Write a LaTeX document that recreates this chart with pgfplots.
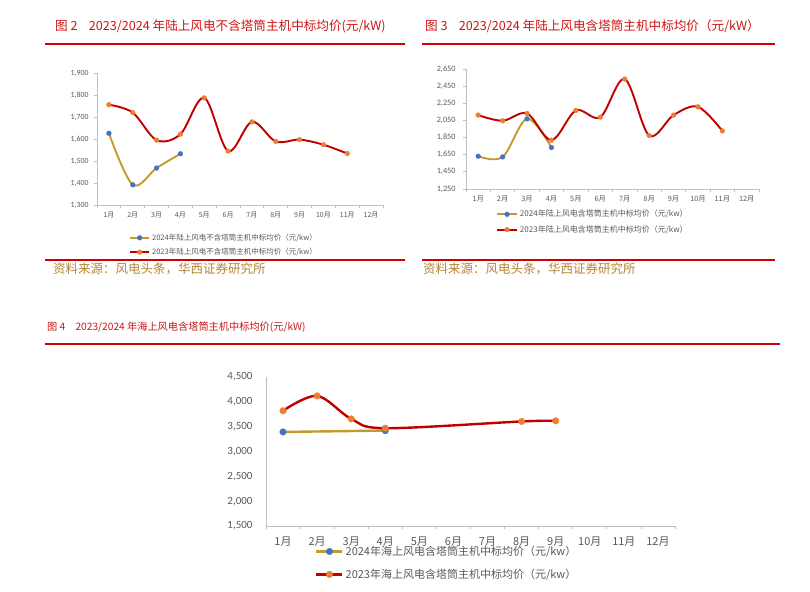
\documentclass[border=0pt]{standalone}
\usepackage{pgfplots}
\pgfplotsset{compat=1.18}
\usepackage{fontspec}
\setmainfont{Carlito}
\newfontfamily\cjk{Noto Sans CJK SC}
\definecolor{red23}{RGB}{192,0,0}
\definecolor{orangeM}{RGB}{237,125,49}
\definecolor{blueM}{RGB}{68,114,196}
\definecolor{gold24}{RGB}{196,154,44}
\definecolor{titlered}{RGB}{204,20,20}
\definecolor{rulered}{RGB}{210,0,0}
\definecolor{srcgold}{RGB}{180,132,52}
\definecolor{axisgray}{RGB}{191,191,191}
\definecolor{labelgray}{RGB}{89,89,89}
\pgfplotsset{
  mybase/.style={
    scale only axis,
    anchor=south west,
    axis x line*=bottom, axis y line*=left,
    axis line style={draw=axisgray, line width=0.8pt},
    xmin=0.5, xmax=12.5,
    xtick={1,...,12},
    xticklabels={1月,2月,3月,4月,5月,6月,7月,8月,9月,10月,11月,12月},
    major x tick style={draw=none},
    minor xtick={0.5,1.5,...,12.5},
    minor tick length=3pt,
    tick align=outside,
    tick style={draw=axisgray, line width=0.8pt},
    yticklabel style={/pgf/number format/1000 sep={,}, /pgf/number format/assume math mode=true, text=labelgray},
    xticklabel style={text=labelgray},
    scaled y ticks=false,
    clip=false,
    legend cell align=left,
  },
  s23/.style={red23, smooth, tension=0.55, mark=*, mark options={draw=orangeM, fill=orangeM, line width=0.1pt}},
  s24/.style={gold24, smooth, tension=0.55, mark=*, mark options={draw=blueM, fill=blueM, line width=0.1pt}},
}
\begin{document}
\begin{tikzpicture}[x=1pt,y=1pt]
\path[use as bounding box] (0,0) rectangle (810,591);

% ---------- Figure 2 ----------
\node[anchor=west, inner sep=0, text=titlered, font=\cjk\fontsize{12.6}{14}\selectfont] at (55,565) {图 2\hspace{0.9em}2023/2024 年陆上风电不含塔筒主机中标均价(元/kW)};
\draw[rulered, line width=1.8pt] (45,547) -- (405,547);
\begin{axis}[mybase,
  at={(97pt,386pt)}, width=286pt, height=132pt,
  ymin=1300, ymax=1900, ytick={1300,1400,...,1900},
  major tick length=3pt,
  yticklabel style={font=\fontsize{7.8}{9}\selectfont, xshift=-2pt},
  xticklabel style={font=\cjk\fontsize{7}{8}\selectfont},
  legend style={at={(axis description cs:0.112,-0.303)}, anchor=west, draw=none, fill=none, inner sep=0pt, row sep=2.5pt, font=\cjk\fontsize{7.5}{9}\selectfont, text=labelgray},
  legend image code/.code={\draw[mark repeat=2,mark phase=2,#1] plot coordinates {(0pt,0pt)(9.5pt,0pt)(19pt,0pt)};},
  every axis plot/.append style={line width=1.9pt, mark size=2.5pt},
]
\addplot[s24] coordinates {(1,1626)(2,1392)(3,1468)(4,1533)};
\addlegendentry{2024年陆上风电不含塔筒主机中标均价（元/kw）}
\addplot[s23] coordinates {(1,1756)(2,1720)(3,1595)(4,1622)(5,1787)(6,1545)(7,1678)(8,1589)(9,1597)(10,1574)(11,1534)};
\addlegendentry{2023年陆上风电不含塔筒主机中标均价（元/kw）}
\end{axis}
\draw[rulered, line width=1.5pt] (45,331) -- (405,331);
\node[anchor=west, inner sep=0, text=srcgold, font=\cjk\fontsize{12.5}{14}\selectfont] at (53,322) {资料来源：风电头条，华西证券研究所};

% ---------- Figure 3 ----------
\node[anchor=west, inner sep=0, text=titlered, font=\cjk\fontsize{12.6}{14}\selectfont] at (425,565) {图 3\hspace{0.9em}2023/2024 年陆上风电含塔筒主机中标均价（元/kW）};
\draw[rulered, line width=1.8pt] (422,547) -- (775,547);
\begin{axis}[mybase,
  at={(466pt,402pt)}, width=293pt, height=120pt,
  ymin=1250, ymax=2650, ytick={1250,1450,...,2650},
  major tick length=3pt,
  yticklabel style={font=\fontsize{8.2}{9}\selectfont, xshift=-4pt},
  xticklabel style={font=\cjk\fontsize{7.3}{8}\selectfont},
  legend style={at={(axis description cs:0.102,-0.275)}, anchor=west, draw=none, fill=none, inner sep=0pt, row sep=3pt, font=\cjk\fontsize{8}{9}\selectfont, text=labelgray},
  legend image code/.code={\draw[mark repeat=2,mark phase=2,#1] plot coordinates {(0pt,0pt)(10pt,0pt)(20pt,0pt)};},
  every axis plot/.append style={line width=1.9pt, mark size=2.5pt},
]
\addplot[s24] coordinates {(1,1632)(2,1624)(3,2069)(4,1734)};
\addlegendentry{2024年陆上风电含塔筒主机中标均价（元/kw）}
\addplot[s23] coordinates {(1,2112)(2,2046)(3,2131)(4,1819)(5,2166)(6,2088)(7,2533)(8,1874)(9,2112)(10,2209)(11,1928)};
\addlegendentry{2023年陆上风电含塔筒主机中标均价（元/kw）}
\end{axis}
\draw[rulered, line width=1.5pt] (422,331) -- (775,331);
\node[anchor=west, inner sep=0, text=srcgold, font=\cjk\fontsize{12.5}{14}\selectfont] at (423,322) {资料来源：风电头条，华西证券研究所};

% ---------- Figure 4 ----------
\node[anchor=west, inner sep=0, text=titlered, font=\cjk\fontsize{10.2}{12}\selectfont] at (47,264) {图 4\hspace{1em}2023/2024 年海上风电含塔筒主机中标均价(元/kW)};
\draw[rulered, line width=1.8pt] (45,247) -- (780,247);
\begin{axis}[mybase,
  at={(266pt,65pt)}, width=409pt, height=149pt,
  ymin=1500, ymax=4500, ytick={1500,2000,...,4500},
  major y tick style={draw=none},
  major tick length=4pt,
  yticklabel style={font=\fontsize{11}{12}\selectfont, xshift=-6pt},
  xticklabel style={font=\cjk\fontsize{11}{12}\selectfont, yshift=-3pt},
  legend style={at={(axis description cs:0.12,-0.248)}, anchor=west, draw=none, fill=none, inner sep=0pt, row sep=8pt, font=\cjk\fontsize{11}{13}\selectfont, text=labelgray},
  legend image code/.code={\draw[mark repeat=2,mark phase=2,#1] plot coordinates {(0pt,0pt)(13pt,0pt)(26pt,0pt)};},
  every axis plot/.append style={line width=2.4pt, mark size=3.4pt},
]
\addplot[s24] coordinates {(1,3394)(4,3421)};
\addlegendentry{2024年海上风电含塔筒主机中标均价（元/kw）}
\addplot[s23] coordinates {(1,3820)(2,4120)(3,3657)(4,3469)(8,3605)(9,3617)};
\addlegendentry{2023年海上风电含塔筒主机中标均价（元/kw）}
\end{axis}
\end{tikzpicture}
\end{document}
